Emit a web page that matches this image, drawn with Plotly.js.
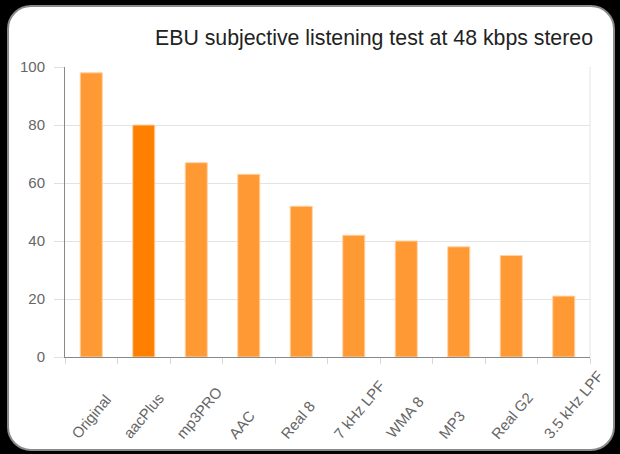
<!DOCTYPE html>
<html>
<head>
<meta charset="utf-8">
<script src="https://cdn.plot.ly/plotly-3.0.1.min.js"></script>
<style>
  html, body { margin: 0; padding: 0; background: #000; width: 620px; height: 454px; overflow: hidden; }
  #card { position: absolute; left: 7px; top: 5px; width: 604px; height: 442px; background: #fff;
          border: 2px solid #8a8a8a; border-radius: 24px; }
  #chart { position: absolute; left: 0; top: 0; width: 620px; height: 454px; }
</style>
</head>
<body>
<div id="card"></div>
<div id="chart"></div>
<script>
const categories = ["Original", "aacPlus", "mp3PRO", "AAC", "Real 8", "7 kHz LPF", "WMA 8", "MP3", "Real G2", "3.5 kHz LPF"];
const scores = [98, 80, 67, 63, 52, 42, 40, 38, 35, 21];
const highlighted = "aacPlus";
const yTicks = [0, 20, 40, 60, 80, 100];
const chartTitle = "EBU subjective listening test at 48 kbps stereo";

const barColors = categories.map(c => c === highlighted ? "#ff7f00" : "#ff9933");

const trace = {
  type: "bar",
  x: categories,
  y: scores,
  width: 0.42,
  marker: { color: barColors, line: { color: "#ffd2a6", width: 1 } },
  hoverinfo: "x+y"
};

// Category labels: rotated, all starting on a common bottom line (as in the reference)
const labelAnnotations = categories.map(c => ({
  text: c,
  x: c, xref: "x",
  y: 0, yref: "paper",
  xanchor: "left", yanchor: "bottom",
  xshift: -25, yshift: -86,
  textangle: -50,
  showarrow: false,
  borderpad: 0,
  font: { family: "Liberation Sans, Arial, sans-serif", size: 15, color: "#666" }
}));

const layout = {
  width: 620,
  height: 454,
  margin: { l: 65, r: 30, t: 67, b: 97 },
  paper_bgcolor: "rgba(0,0,0,0)",
  plot_bgcolor: "#fff",
  font: { family: "Liberation Sans, Arial, sans-serif", color: "#666", size: 15 },
  showlegend: false,
  title: {
    text: chartTitle,
    font: { family: "Liberation Sans, Arial, sans-serif", size: 21.3, color: "#222" },
    x: 593 / 620, xref: "container", xanchor: "right",
    y: 1 - 38 / 454, yref: "container", yanchor: "middle"
  },
  xaxis: {
    type: "category",
    autorange: false,
    range: [-0.5, categories.length - 0.5],
    ticks: "outside",
    tickson: "boundaries",
    ticklen: 6,
    tickcolor: "#d8d8d8",
    showline: true,
    linecolor: "#888",
    linewidth: 1,
    showgrid: false,
    showticklabels: false
  },
  yaxis: {
    autorange: false,
    range: [0, 100],
    tickvals: yTicks,
    ticktext: yTicks.map(String),
    ticks: "outside",
    ticklen: 10,
    tickcolor: "#e0e0e0",
    showline: true,
    linecolor: "#888",
    linewidth: 1,
    gridcolor: "#e3e3e3",
    zeroline: false,
    ticklabelstandoff: 6,
    tickfont: { size: 15, color: "#666" }
  },
  annotations: labelAnnotations,
  shapes: [
    { type: "line", xref: "paper", yref: "paper", x0: 1, x1: 1, y0: 0, y1: 1,
      line: { color: "#e3e3e3", width: 1 } }
  ]
};

Plotly.newPlot("chart", [trace], layout, { displayModeBar: false, staticPlot: true });
</script>
</body>
</html>
